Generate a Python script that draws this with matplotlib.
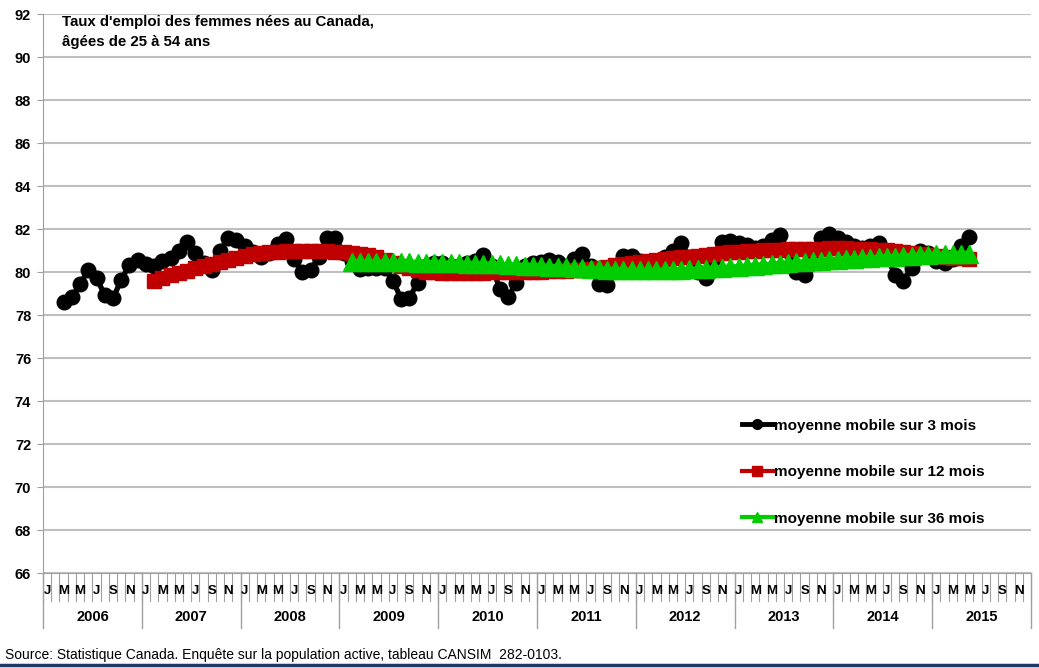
import numpy as np
import matplotlib
matplotlib.use('Agg')
import matplotlib.pyplot as plt
from matplotlib.lines import Line2D

plt.rcParams['font.family'] = ['Liberation Sans', 'DejaVu Sans']

years = [2006, 2007, 2008, 2009, 2010, 2011, 2012, 2013, 2014, 2015]
month_letters = ['J', 'M', 'M', 'J', 'S', 'N']  # jan, mars, mai, juil, sept, nov

# moyenne mobile 3 mois : mars 2006 -> mai 2015
mm3_start = (2006, 3)
mm3 = [78.62, 78.85, 79.43, 80.09, 79.72, 78.93, 78.78, 79.63, 80.33, 80.56,
       80.35, 80.3, 80.5, 80.65, 81.0, 81.4, 80.9, 80.4, 80.1, 81.0, 81.58, 81.5,
       81.2, 80.95, 80.7, 80.9, 81.3, 81.55, 80.6, 80.0, 80.1, 80.7, 81.58, 81.58,
       80.9, 80.5, 80.15, 80.2, 80.2, 80.2, 79.6, 78.75, 78.8, 79.5, 80.3, 80.4,
       80.4, 80.3, 80.3, 80.4, 80.5, 80.8, 80.3, 79.2, 78.85, 79.5, 80.3, 80.4,
       80.45, 80.55, 80.45, 80.3, 80.6, 80.85, 80.3, 79.45, 79.4, 80.1, 80.75, 80.75,
       80.5, 80.3, 80.3, 80.7, 81.0, 81.35, 80.7, 80.0, 79.7, 80.4, 81.4, 81.45,
       81.35, 81.25, 81.1, 81.2, 81.5, 81.7, 81.0, 80.0, 79.85, 80.6, 81.6, 81.75,
       81.6, 81.4, 81.2, 81.1, 81.2, 81.35, 80.7, 79.85, 79.6, 80.2, 81.0, 80.9,
       80.5, 80.4, 80.6, 81.2, 81.65]

# moyenne mobile 12 mois : fev 2007 -> mai 2015
mm12_start = (2007, 2)
mm12 = [79.6, 79.72, 79.84, 79.95, 80.06, 80.17, 80.28, 80.38, 80.48, 80.58, 80.67,
        80.75, 80.82, 80.88, 80.92, 80.95, 80.97, 80.98, 80.98, 80.98, 80.97, 80.96, 80.95,
        80.93, 80.9, 80.85, 80.78, 80.68, 80.55, 80.42, 80.3, 80.18, 80.08, 80.02, 79.98,
        79.96, 79.95, 79.95, 79.95, 79.96, 79.97, 79.98, 79.99, 80.0, 80.0, 80.01, 80.02,
        80.02, 80.03, 80.04, 80.06, 80.08, 80.11, 80.15, 80.2, 80.25, 80.31, 80.37, 80.43,
        80.48, 80.52, 80.56, 80.6, 80.64, 80.68, 80.72, 80.76, 80.8, 80.84, 80.88, 80.92,
        80.95, 80.98, 81.0, 81.02, 81.03, 81.04, 81.05, 81.06, 81.07, 81.08, 81.09, 81.1,
        81.1, 81.1, 81.09, 81.08, 81.06, 81.04, 81.01, 80.97, 80.93, 80.88, 80.83, 80.78,
        80.74, 80.7, 80.67, 80.64, 80.62]

# moyenne mobile 36 mois : fev 2009 -> mai 2015
mm36_start = (2009, 2)
mm36 = [80.48, 80.48, 80.47, 80.47, 80.46, 80.46, 80.45, 80.45, 80.44, 80.43, 80.43,
        80.42, 80.41, 80.4, 80.39, 80.38, 80.37, 80.36, 80.35, 80.33, 80.32, 80.3, 80.29,
        80.27, 80.25, 80.23, 80.21, 80.19, 80.17, 80.15, 80.13, 80.11, 80.1, 80.09, 80.08,
        80.07, 80.07, 80.07, 80.08, 80.09, 80.1, 80.12, 80.14, 80.16, 80.18, 80.2, 80.22,
        80.25, 80.27, 80.3, 80.33, 80.36, 80.39, 80.42, 80.45, 80.48, 80.51, 80.53, 80.56,
        80.58, 80.6, 80.62, 80.64, 80.66, 80.68, 80.7, 80.72, 80.74, 80.76, 80.78, 80.8,
        80.82, 80.83, 80.84, 80.85, 80.86]


def xpos(start, n):
    i0 = (start[0] - years[0]) * 12 + start[1] - 1
    return np.arange(i0, i0 + n)


fig = plt.figure(figsize=(10.39, 6.68), dpi=100)
ax = fig.add_axes([43 / 1039, 95 / 668, 988 / 1039, 559 / 668])

ax.plot(xpos(mm3_start, len(mm3)), mm3, '-', color='black', lw=3.8,
        marker='o', ms=10.5, zorder=3)
ax.plot(xpos(mm12_start, len(mm12)), mm12, '-', color='#C00000', lw=4,
        marker='s', ms=10, mec='#C00000', zorder=4)
ax.plot(xpos(mm36_start, len(mm36)), mm36, '-', color='#00CC00', lw=4,
        marker='^', ms=13, mec='#00CC00', zorder=5)

nmonths = 12 * len(years)
ax.set_xlim(-0.5, nmonths - 0.5)
ax.set_ylim(66, 92)
ax.set_yticks(np.arange(66, 93, 2))
ax.set_yticklabels([str(v) for v in range(66, 93, 2)], fontweight='bold', fontsize=10.5)
ax.tick_params(axis='y', length=4, color='#A0A0A0', pad=4.5)
ax.grid(axis='y', color='#BFBFBF', lw=1.5)
ax.set_axisbelow(True)
for s in ['top', 'right']:
    ax.spines[s].set_visible(False)
ax.spines['left'].set_color('#A0A0A0')
ax.spines['bottom'].set_color('#A0A0A0')

# axe des mois fait a la main
ax.set_xticks([])
tr = ax.get_xaxis_transform()
for m in range(nmonths + 1):
    ax.plot([m - 0.5, m - 0.5], [0, -0.05], color='#A0A0A0', lw=0.8,
            transform=tr, clip_on=False)
for k in range(len(years) + 1):
    ax.plot([12 * k - 0.5, 12 * k - 0.5], [0, -0.098], color='#A0A0A0', lw=1,
            transform=tr, clip_on=False)
for k, yr in enumerate(years):
    for j, lab in enumerate(month_letters):
        ax.text(12 * k + 2 * j, -0.032, lab, transform=tr, ha='center', va='center',
                fontsize=9.5, fontweight='bold')
    ax.text(12 * k + 5.5, -0.079, str(yr), transform=tr, ha='center', va='center',
            fontsize=10.5, fontweight='bold')

ax.text(0.019, 0.998, "Taux d'emploi des femmes nées au Canada,\nâgées de 25 à 54 ans",
        transform=ax.transAxes, ha='left', va='top', fontsize=10.8, fontweight='bold',
        linespacing=1.55)

handles = [Line2D([], [], color='black', lw=3.5, marker='o', ms=7),
           Line2D([], [], color='#C00000', lw=3, marker='s', ms=7),
           Line2D([], [], color='#00CC00', lw=3, marker='^', ms=7)]
labels = ['moyenne mobile sur 3 mois', 'moyenne mobile sur 12 mois',
          'moyenne mobile sur 36 mois']
ax.legend(handles, labels, loc='upper left', bbox_to_anchor=(0.7075, 0.276),
          frameon=False, borderpad=0, borderaxespad=0, handlelength=2.0,
          handletextpad=0.12, labelspacing=2.13, prop={'weight': 'bold', 'size': 11})

fig.text(5 / 1039, 13 / 668, 'Source: Statistique Canada. Enquête sur la population active, '
         'tableau CANSIM  282-0103.', fontsize=10, va='center', ha='left')
fig.add_artist(Line2D([0, 1], [0.004, 0.004], color='#1F3864', lw=2.5,
                      transform=fig.transFigure))

fig.savefig('out.png', dpi=100)
